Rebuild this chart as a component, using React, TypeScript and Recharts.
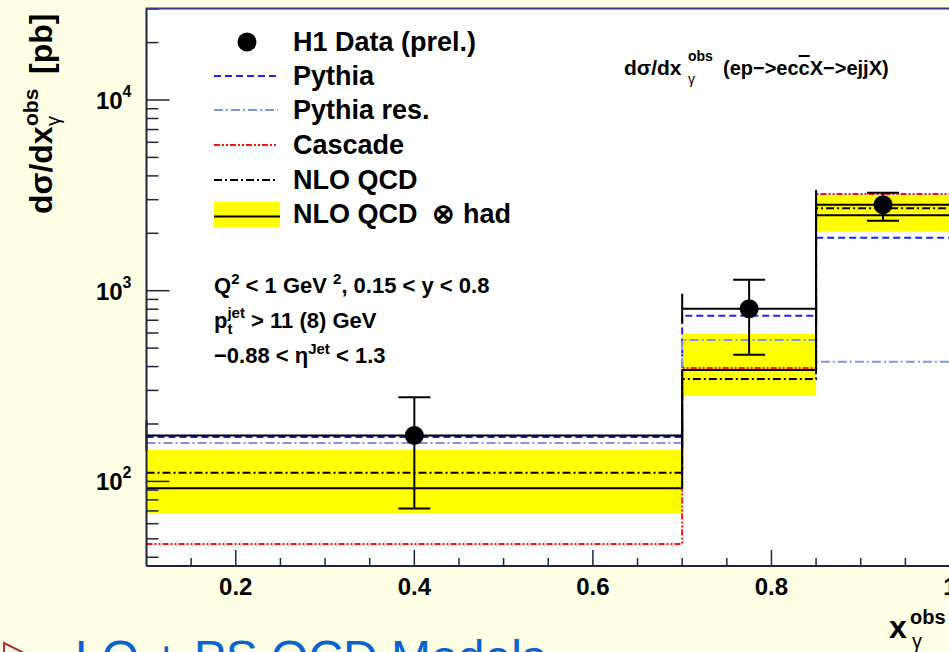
import {
    CartesianGrid,
    ComposedChart,
    ErrorBar,
    Line,
    ReferenceArea,
    Scatter,
    XAxis,
    YAxis
} from "recharts";

// bin edges in x_gamma^obs and histogram contents [pb]
const binEdges = [0.1, 0.7, 0.85, 1.0];
const pythia = [171, 739, 1897];
const pythiaRes = [159, 551, 424];
const cascade = [47, 393, 3216];
const nlo = [111, 344, 2704];
const nloHad = [92, 384, 2485];
const nloHadLow = [68, 281, 2038];
const nloHadHigh = [146, 593, 3166];

// H1 data (prel.)
const dataX = [0.4, 0.775, 0.925];
const dataY = [174, 804, 2820];
const dataErrLow = [72, 462, 2330];
const dataErrHigh = [276, 1142, 3265];

const xTicks = [0.15, 0.2, 0.25, 0.3, 0.35, 0.4, 0.45, 0.5, 0.55, 0.6, 0.65, 0.7, 0.75, 0.8, 0.85, 0.9, 0.95, 1.0];
const xLabels = [0.2, 0.4, 0.6, 0.8, 1.0];
const yTicks = [
    40, 50, 60, 70, 80, 90, 100, 200, 300, 400, 500, 600, 700, 800, 900,
    1000, 2000, 3000, 4000, 5000, 6000, 7000, 8000, 9000, 10000, 20000, 30000
];
const yLabels = [100, 1000, 10000];

const FONT = "'Liberation Sans', Arial, Helvetica, sans-serif";
const AXIS = "#22223f";

const series = [
    { key: "pythia", name: "Pythia", stroke: "#2020ff", dash: "7 4" },
    { key: "pythiaRes", name: "Pythia res.", stroke: "#7f9ad8", dash: "9 3 2 3" },
    { key: "cascade", name: "Cascade", stroke: "#ff1010", dash: "6 2 2 2 2 2" },
    { key: "nlo", name: "NLO QCD", stroke: "#000000", dash: "8 3 2 3" }
];

const histRows = binEdges.map((x, i) => {
    const j = Math.min(i, binEdges.length - 2);
    return {
        x,
        pythia: pythia[j],
        pythiaRes: pythiaRes[j],
        cascade: cascade[j],
        nlo: nlo[j],
        nloHad: nloHad[j]
    };
});

const points = dataX.map((x, i) => ({
    x,
    y: dataY[i],
    ex: [x - binEdges[i], binEdges[i + 1] - x],
    ey: [dataY[i] - dataErrLow[i], dataErrHigh[i] - dataY[i]]
}));

function XTick(props: any) {
    const { x, y, payload } = props;
    const major = xLabels.includes(payload.value);
    return (
        <g>
            <line x1={x} x2={x} y1={y} y2={y - (major ? 16 : 8)} stroke={AXIS} strokeWidth={1.5} />
            {major && (
                <text x={x} y={y + 29} textAnchor="middle" fontFamily={FONT} fontWeight="bold" fontSize={24} fill="#000">
                    {payload.value === 1 ? "1" : payload.value.toFixed(1)}
                </text>
            )}
        </g>
    );
}

function YTick(props: any) {
    const { x, y, payload } = props;
    const major = yLabels.includes(payload.value);
    return (
        <g>
            <line x1={x} x2={x + (major ? 23 : 12)} y1={y} y2={y} stroke={AXIS} strokeWidth={1.5} />
            {major && (
                <text x={x - 15} y={y + 9} textAnchor="end" fontFamily={FONT} fontWeight="bold" fontSize={24} fill="#000">
                    10
                    <tspan dy={-12} fontSize={16}>{Math.round(Math.log10(payload.value))}</tspan>
                </text>
            )}
        </g>
    );
}

function Marker(props: any) {
    return <circle cx={props.cx} cy={props.cy} r={9.5} fill="#000" />;
}

function Overlay() {
    const rows = [76, 110, 145, 180];
    return (
        <svg width={949} height={652} style={{ position: "absolute", left: 0, top: 0, pointerEvents: "none" }}>
            <g fontFamily={FONT} fontWeight="bold" fill="#000">
                {/* frame top */}
                <line x1={146} x2={949} y1={8.5} y2={8.5} stroke="#3a3a8a" strokeWidth={2} />

                {/* y title */}
                <g transform="translate(52,214) rotate(-90)">
                    <text x={0} y={0} fontSize={32}>dσ/dx</text>
                    <text x={88} y={-14} fontSize={21}>obs</text>
                    <text x={88} y={8} fontSize={20} fontWeight="normal">γ</text>
                    <text x={140} y={0} fontSize={32}>[pb]</text>
                </g>

                {/* x title */}
                <text x={889} y={638} fontSize={32}>x</text>
                <text x={910} y={624} fontSize={20}>obs</text>
                <text x={912} y={648} fontSize={20} fontWeight="normal">γ</text>

                {/* legend */}
                <circle cx={247} cy={42} r={9.5} fill="#000" />
                <text x={293} y={51} fontSize={27}>H1 Data (prel.)</text>
                {series.map((s, i) => (
                    <g key={s.key}>
                        <line x1={214} x2={278} y1={rows[i]} y2={rows[i]} stroke={s.stroke} strokeWidth={2} strokeDasharray={s.dash} />
                        <text x={293} y={rows[i] + 9} fontSize={27}>{s.name}</text>
                    </g>
                ))}
                <rect x={214} y={202} width={66} height={25} fill="#ffff00" />
                <line x1={214} x2={280} y1={216.5} y2={216.5} stroke="#000" strokeWidth={2} />
                <text x={293} y={223} fontSize={27} xmlSpace="preserve">{"NLO QCD  ⊗ had"}</text>

                {/* process label */}
                <text x={624} y={75} fontSize={21}>dσ/dx</text>
                <text x={688} y={61} fontSize={14}>obs</text>
                <text x={688} y={84} fontSize={14} fontWeight="normal">γ</text>
                <text x={723} y={75} fontSize={20}>
                    (ep−&gt;ec<tspan style={{ textDecoration: "overline" }}>c</tspan>X−&gt;ejjX)
                </text>

                {/* cuts */}
                <text x={214} y={293} fontSize={22}>
                    Q<tspan dy={-9} fontSize={15}>2</tspan>
                    <tspan dy={9}>{" < 1 GeV "}</tspan>
                    <tspan dy={-9} fontSize={15}>2</tspan>
                    <tspan dy={9}>, 0.15 &lt; y &lt; 0.8</tspan>
                </text>
                <text x={214} y={328} fontSize={22}>
                    p<tspan dy={6} fontSize={15}>t</tspan>
                    <tspan dx={-5} dy={-16} fontSize={15}>jet</tspan>
                    <tspan dy={10}>{" > 11 (8) GeV"}</tspan>
                </text>
                <text x={214} y={363} fontSize={22}>
                    −0.88 &lt; η<tspan dy={-9} fontSize={15}>Jet</tspan>
                    <tspan dy={9}>{" < 1.3"}</tspan>
                </text>
            </g>

            {/* slide text below the plot */}
            <polygon points="4,643 22,652 4,661" fill="none" stroke="#b03030" strokeWidth={2} />
            <text x={75} y={674} fontFamily={FONT} fontSize={48} fill="#0a64cf">LO + PS QCD Models</text>
        </svg>
    );
}

export default function App() {
    return (
        <div
            style={{
                position: "absolute",
                left: 0,
                top: 0,
                width: 949,
                height: 652,
                overflow: "hidden",
                background: "#ffffe6"
            }}
        >
            <ComposedChart width={962} height={652} data={histRows} margin={{ top: 8, right: 12, bottom: 0, left: 0 }}>
                <CartesianGrid fill="#ffffff" horizontal={false} vertical={false} />
                <XAxis
                    type="number"
                    dataKey="x"
                    domain={[0.1, 1.0]}
                    ticks={xTicks}
                    interval={0}
                    allowDataOverflow
                    height={86}
                    tickSize={0}
                    tickMargin={0}
                    tickLine={false}
                    tick={<XTick />}
                    axisLine={{ stroke: AXIS, strokeWidth: 2 }}
                />
                <YAxis
                    type="number"
                    scale="log"
                    domain={[36, 30370]}
                    ticks={yTicks}
                    interval={0}
                    allowDataOverflow
                    width={146.5}
                    tickSize={0}
                    tickMargin={0}
                    tickLine={false}
                    tick={<YTick />}
                    axisLine={{ stroke: AXIS, strokeWidth: 2 }}
                />
                {nloHad.map((_, i) => (
                    <ReferenceArea
                        key={i}
                        x1={binEdges[i]}
                        x2={binEdges[i + 1]}
                        y1={nloHadLow[i]}
                        y2={nloHadHigh[i]}
                        fill="#ffff00"
                        fillOpacity={1}
                        stroke="none"
                        ifOverflow="visible"
                    />
                ))}
                {series.map((s) => (
                    <Line
                        key={s.key}
                        type="stepAfter"
                        dataKey={s.key}
                        stroke={s.stroke}
                        strokeWidth={2}
                        strokeDasharray={s.dash}
                        dot={false}
                        isAnimationActive={false}
                    />
                ))}
                <Line
                    type="stepAfter"
                    dataKey="nloHad"
                    stroke="#000"
                    strokeWidth={2}
                    dot={false}
                    isAnimationActive={false}
                />
                <Scatter data={points} dataKey="y" shape={<Marker />} isAnimationActive={false}>
                    <ErrorBar dataKey="ey" direction="y" width={16} stroke="#000" strokeWidth={2} />
                    <ErrorBar dataKey="ex" direction="x" width={15} stroke="#000" strokeWidth={2} />
                </Scatter>
            </ComposedChart>
            <Overlay />
        </div>
    );
}
